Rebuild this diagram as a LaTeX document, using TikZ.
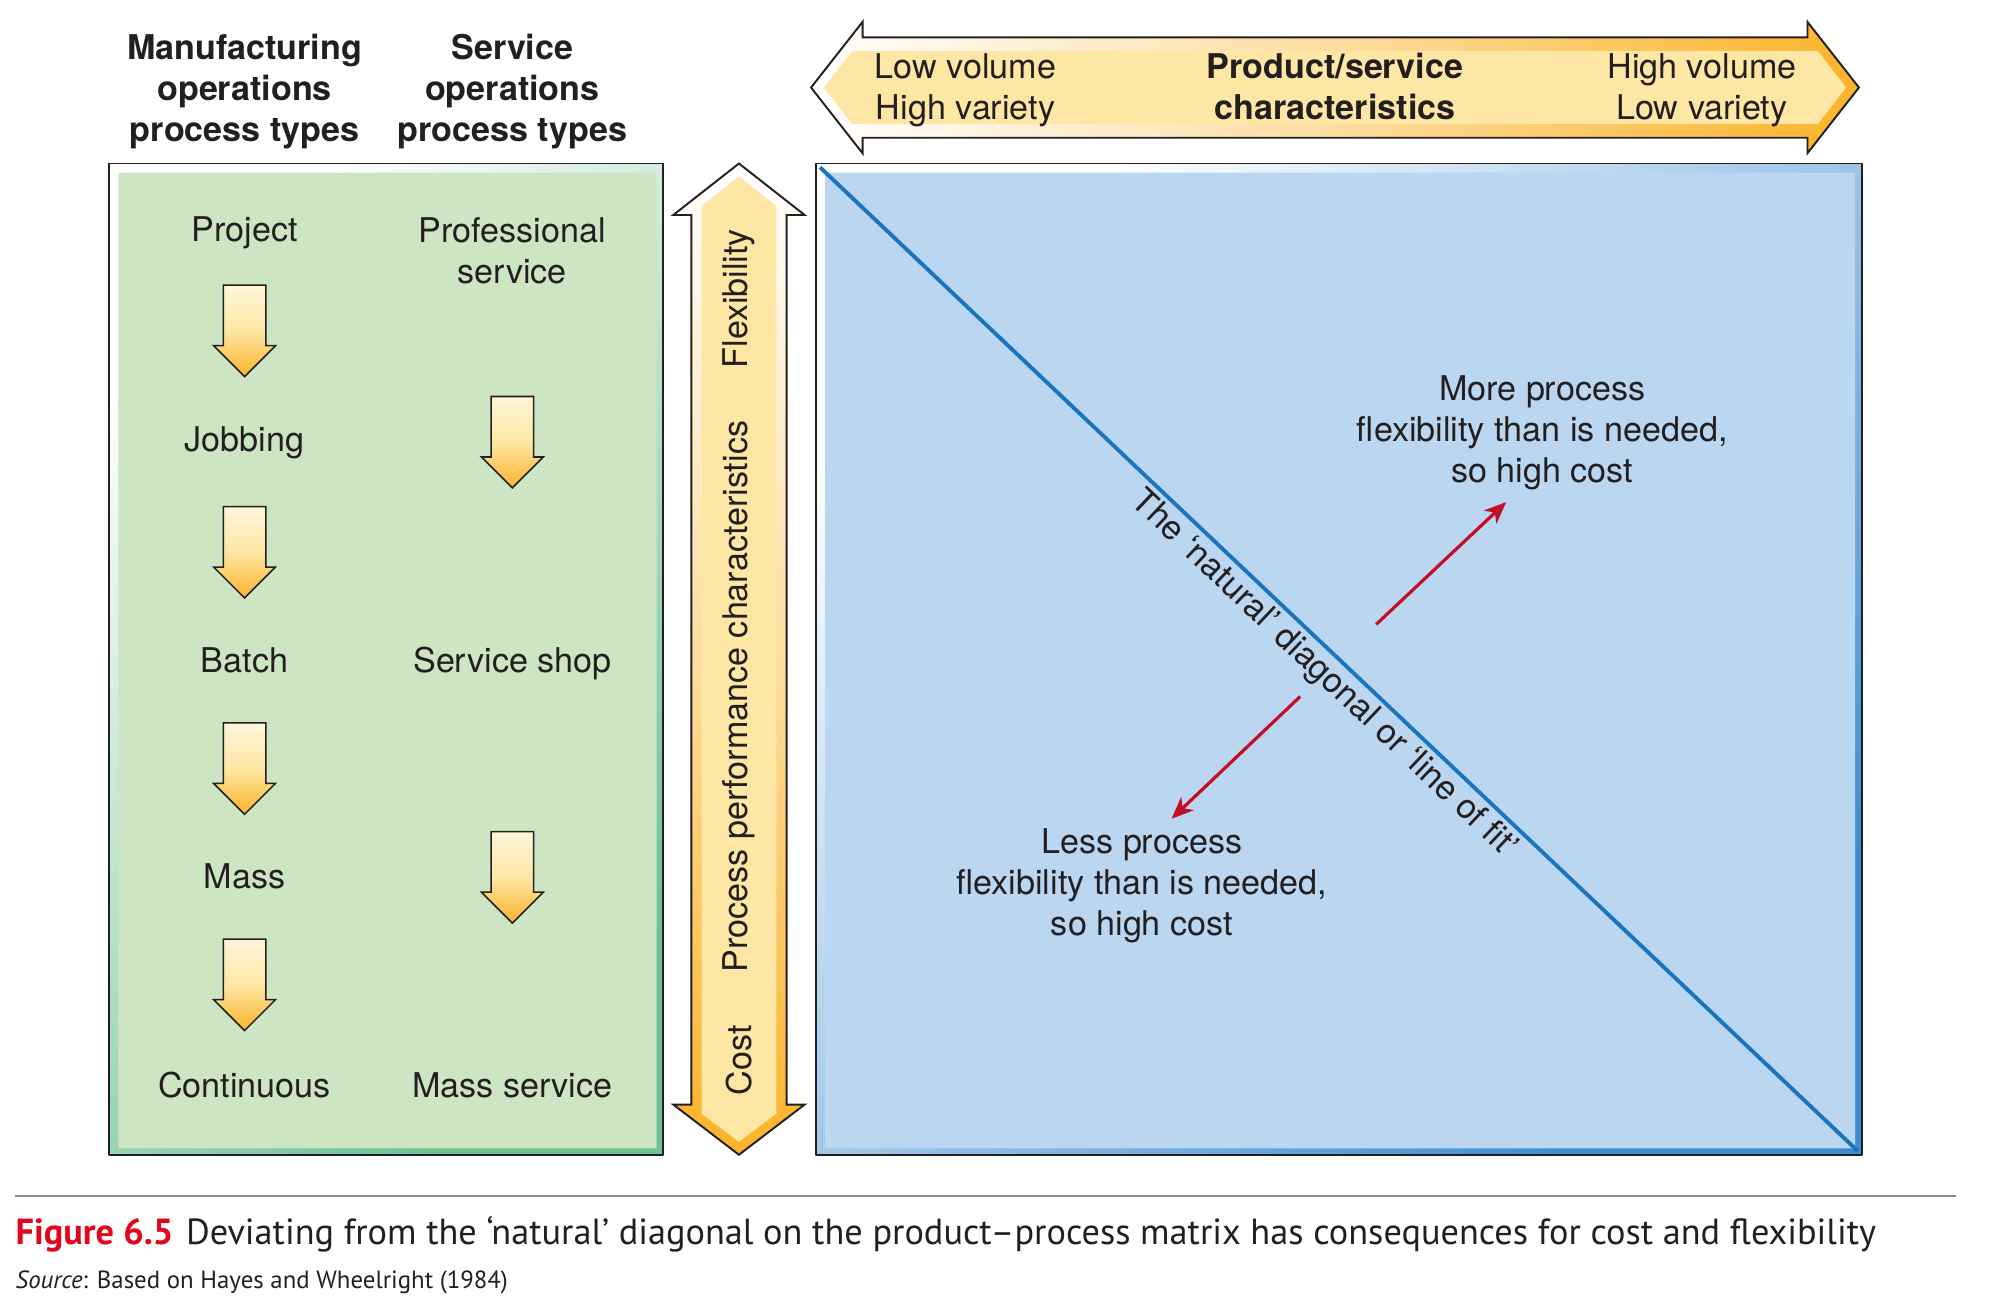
\documentclass[tikz,border=0pt]{standalone}
\usepackage{fontspec}
\setmainfont{TeX Gyre Heros}
\newfontfamily\captionfont{PT Sans}
\usetikzlibrary{arrows.meta,calc}
\usepackage{tkz-euclide}
\definecolor{TextClr}{HTML}{231F20}
\definecolor{GreenClr}{HTML}{CEE5C3}
\definecolor{GreenEdgeClr}{HTML}{6CC193}
\definecolor{BlueClr}{HTML}{BAD6F0}
\definecolor{BlueEdgeClr}{HTML}{3F8DD0}
\definecolor{LineClr}{HTML}{1B75BC}
\definecolor{ArrowClr}{HTML}{C00F26}
\definecolor{YellowClr}{HTML}{FEE7A4}
\definecolor{OrangeClr}{HTML}{FBB32A}
\definecolor{FigClr}{HTML}{E3051B}
\definecolor{RuleClr}{HTML}{8A8A8A}

\tikzset{
  itemtext/.style={font=\fontsize{26.5}{32}\selectfont, text=TextClr, align=center, inner sep=0pt},
  headtext/.style={itemtext, font=\fontsize{26.5}{32}\selectfont\bfseries},
  redarrow/.style={draw=ArrowClr, line width=2.5pt, -{Stealth[length=17pt,width=14pt,inset=5pt]}},
  bigarrow/.style={line width=1.5pt, draw=TextClr},
  down arrow/.pic={
    \draw[line width=1.2pt, draw=TextClr, top color=YellowClr!40!white, bottom color=OrangeClr, middle color=YellowClr]
      (-16.5,-35.5) -- (16.5,-35.5) -- (16.5,11.5) -- (24,11.5) -- (0,35.5) -- (-24,11.5) -- (-16.5,11.5) -- cycle;
  }
}

\begin{document}
\begin{tikzpicture}[x=1pt,y=-1pt]
\tkzSetUpLine[line width=1.5pt,color=TextClr]
\useasboundingbox (0,0) rectangle (1566,1010);

\tkzDefPoints{85/127/A,515/127/B,515/897/C,85/897/D}
\tkzDefPoints{92/134/a,510/134/b,510/892/c,92/892/d}
\tkzDefPoints{634/127/E,1446/127/F,1446/897/G,634/897/H}
\tkzDefPoints{641/134/e,1441/134/f,1441/892/g,641/892/h}
\tkzDefPoints{637/130/P,1443/894/Q}

\tkzFillPolygon[top color=white,bottom color=GreenEdgeClr,shading angle=45](A,B,C,D)
\tkzFillPolygon[fill=GreenClr](a,b,c,d)
\tkzDrawPolygon(A,B,C,D)

\tkzFillPolygon[top color=white,bottom color=BlueEdgeClr,shading angle=45](E,F,G,H)
\tkzFillPolygon[fill=BlueClr](e,f,g,h)
\tkzDrawPolygon(E,F,G,H)

\draw[LineClr,line width=3pt] (P) -- (Q)
  node[pos=.5,sloped,below,itemtext,inner sep=3pt] (diag) {The ‘natural’ diagonal or ‘line of fit’};

\draw[bigarrow, left color=white, right color=OrangeClr, middle color=OrangeClr!45!white]
  (630,68) -- (670,17) -- (670,29) -- (1404,29) -- (1404,17) -- (1444,68)
  -- (1404,119) -- (1404,107) -- (670,107) -- (670,119) -- cycle;
\fill[YellowClr] (640,68) -- (662,39.5) -- (1412,39.5) -- (1434,68) -- (1412,96.5) -- (662,96.5) -- cycle;

\draw[bigarrow, top color=white, bottom color=OrangeClr, middle color=OrangeClr!45!white]
  (574,127) -- (625,167) -- (611,167) -- (611,858) -- (625,858) -- (574,897)
  -- (523,858) -- (537,858) -- (537,167) -- (523,167) -- cycle;
\fill[YellowClr] (574,137) -- (603,160) -- (603,865) -- (574,887) -- (545,865) -- (545,160) -- cycle;

\node[headtext] (mfg) at (190,71) {Manufacturing\\operations\\process types};
\node[headtext] (svc) at (398,71) {Service\\operations\\process types};

\node[itemtext] (proj) at (190,181) {Project};
\node[itemtext] (job) at (190,344) {Jobbing};
\node[itemtext] (batch) at (190,513) {Batch};
\node[itemtext] (mass) at (190,681) {Mass};
\node[itemtext] (cont) at (190,843) {Continuous};
\node[itemtext] (prof) at (398,194.5) {Professional\\service};
\node[itemtext] (shop) at (398,515) {Service shop};
\node[itemtext] (msvc) at (398,843) {Mass service};

\pic at (190,257) {down arrow};
\pic at (190,429) {down arrow};
\pic at (190,597) {down arrow};
\pic at (190,765) {down arrow};
\pic at (398,343.5) {down arrow};
\pic at (398,681.5) {down arrow};

\node[itemtext,rotate=90] (flex) at (574,232) {Flexibility};
\node[itemtext,rotate=90] (ppc) at (574,541) {Process performance characteristics};
\node[itemtext,rotate=90] (cost) at (574,823.5) {Cost};

\node[itemtext] (low) at (750,70) {Low volume\\High variety};
\node[headtext] (psc) at (1037,67) {Product/service\\characteristics};
\node[itemtext] (high) at (1322,70) {High volume\\Low variety};

\node[itemtext] (more) at (1198,336) {More process\\flexibility than is needed,\\so high cost};
\node[itemtext] (less) at (887,688) {Less process\\flexibility than is needed,\\so high cost};

\coordinate (m0) at (1069,485);
\coordinate (m1) at (1170,390);
\coordinate (l0) at (1010,541);
\coordinate (l1) at (910,636);
\draw[redarrow] (m0) -- (m1);
\draw[redarrow] (l0) -- (l1);

\coordinate (r0) at (12,929);
\coordinate (r1) at (1519,929);
\draw[RuleClr,line width=1.5pt] (r0) -- (r1);
\node[anchor=base west,inner sep=0pt,text=TextClr,font=\captionfont\fontsize{28.2}{33}\selectfont] (cap) at (12,967)
  {\textcolor{FigClr}{\bfseries Figure 6.5}\hspace{0.35em}Deviating from the ‘natural’ diagonal on the product–process matrix has consequences for cost and flexibility};
\node[anchor=base west,inner sep=0pt,text=TextClr,font=\captionfont\fontsize{19.3}{23}\selectfont] (src) at (12,1001)
  {\textit{Source}: Based on Hayes and Wheelright (1984)};
\end{tikzpicture}
\end{document}
